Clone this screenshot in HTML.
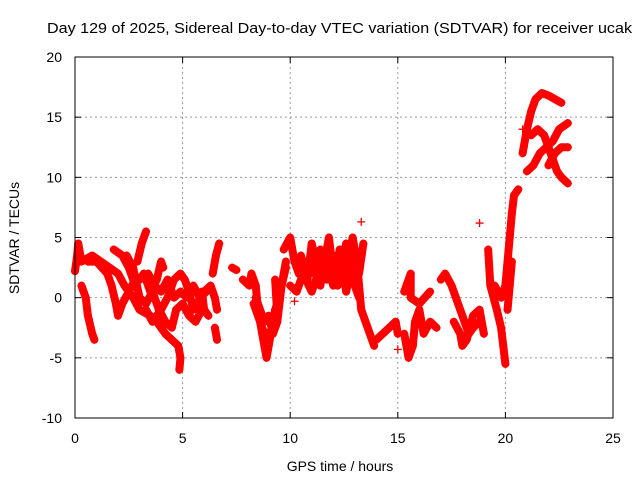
<!DOCTYPE html>
<html><head><meta charset="utf-8"><style>
body{margin:0;background:#fff}
svg{display:block;font-family:"Liberation Sans",sans-serif}
</style></head><body>
<svg id="c" width="640" height="480">
<text x="47" y="33" textLength="585" lengthAdjust="spacingAndGlyphs" font-size="15">Day 129 of 2025, Sidereal Day-to-day VTEC variation (SDTVAR) for receiver ucak</text>
<text x="340" y="471" text-anchor="middle" font-size="14">GPS time / hours</text>
<text transform="translate(19,238) rotate(-90)" text-anchor="middle" font-size="14">SDTVAR / TECUs</text>
<g id="grid"></g><g id="marks"></g>
<rect x="75" y="57" width="538" height="361" fill="none" stroke="#000"/>
</svg>
<script>
const xTicks=[0,5,10,15,20,25];
const yTicks=[-10,-5,0,5,10,15,20];
const t1=[[0,2.2],[0.1,3.5],[0.15,4.5],[0.3,3],[0.5,3.2],[0.8,3.5],[1.2,3],[1.6,2.5],[2.0,2],[2.3,1],[2.7,0],[3.0,-1],[3.5,-1.5],[3.8,-2],[4.2,-3],[4.5,-3.5],[4.8,-4],[4.9,-5],[4.85,-6]];
const t2=[[0.3,1],[0.5,0],[0.6,-1.5],[0.8,-3],[0.9,-3.5]];
const t3=[[0.6,3],[1.0,3],[1.5,2],[1.7,1],[1.9,-0.5],[2.0,-1.5],[2.2,-0.5],[2.5,0.5],[2.8,1.5]];
const t4=[[1.8,4],[2.2,3.5],[2.5,2.5],[2.7,1.5],[3.0,1.5],[3.2,2],[3.5,0.5],[3.8,1.5],[4.0,3],[4.1,2.5]];
const t5=[[2.9,3],[3.1,4.5],[3.3,5.5]];
const t6=[[3.3,-1],[3.6,-2],[4.0,-1],[4.3,0],[4.6,1.5],[4.9,2],[5.1,1.5],[5.3,0.5],[5.5,-1],[5.7,-0.5],[5.9,0.5],[6.0,-1],[6.2,-1.5]];
const t6b=[[2.4,3.5],[2.7,2.5],[3.0,0],[3.3,-0.5],[3.6,0.5],[3.9,-1],[4.2,-2],[4.5,-2.5],[4.7,-1],[5.0,-0.5],[5.3,-1.5],[5.6,-2],[5.9,-1]];
const t6c=[[3.4,2],[3.7,1],[4.0,0.5],[4.3,1.5],[4.6,0],[4.9,0.5],[5.2,0],[5.5,1],[5.8,0],[6.1,0.5]];
const t7=[[6.0,0.5],[6.3,1],[6.5,0],[6.6,-1]];
const t8=[[6.4,2],[6.55,3.5],[6.7,4.5]];
const t9=[[6.5,-2.5],[6.6,-3.5]];
const t10=[[7.3,2.5],[7.5,2.3]];
const t11=[[7.8,1.5],[8.1,1],[8.2,2],[8.4,1],[8.5,-1],[8.7,-3],[8.8,-4],[8.9,-5],[9.0,-4],[9.2,-2],[9.3,-1],[9.5,0],[9.7,2],[9.8,3]];
const t12=[[8.3,-0.5],[8.6,-2],[8.8,-3],[9.0,-3],[9.2,-2.5],[9.4,-1.5],[9.3,1.5]];
const t12b=[[8.4,0],[8.6,-1],[8.8,-2],[9.0,-1.5],[9.2,-3],[9.4,-2],[9.6,1],[9.8,2.5]];
const t13=[[9.7,4],[10,5],[10.2,3],[10.4,2],[10.5,3.5],[10.8,1.5],[11,4.5],[11.2,3],[11.4,1],[11.6,3],[11.8,5],[12,2],[12.2,1],[12.4,3],[12.6,4.5],[12.8,2],[13.0,1],[13.2,0]];
const t14=[[10,1],[10.3,0.5],[10.6,2],[11,0.5],[11.4,2.5],[11.7,1.5],[12,3.5],[12.3,1.5],[12.6,2],[12.9,5],[13.1,3],[13.3,-1],[13.5,-2],[13.7,-3],[13.9,-4]];
const t14b=[[10.8,3],[11.1,2],[11.4,4],[11.7,3],[12.0,1],[12.3,4],[12.6,0.5],[12.9,3],[13.2,2],[13.4,4.5]];
const t15=[[14.0,-3.5],[14.3,-3],[14.6,-2.5],[14.9,-2],[15.0,-3]];
const t16=[[15.3,-3],[15.5,-5],[15.7,-4],[15.8,-2],[16.0,-1],[16.2,-3],[16.5,-2],[16.8,-2.5]];
const t17=[[15.3,0.5],[15.6,2],[15.6,0],[16.0,-0.5],[16.5,0.5]];
const t18=[[17.0,1.5],[17.2,2],[17.5,1],[17.7,0],[17.9,-1],[18.1,-2],[18.3,-3],[18.5,-2.5],[18.8,-2]];
const t19=[[17.6,-2],[17.9,-3],[18.0,-4],[18.2,-3.5],[18.5,-1.5],[18.8,-1],[19,-3]];
const t20=[[19.2,4],[19.3,1],[19.6,-1],[19.8,-2.5],[19.9,-4],[20.0,-5.5]];
const t21=[[19.5,1],[19.8,0],[20.0,1],[20.1,3],[20.2,5],[20.3,7],[20.4,8.5],[20.6,9]];
const t22=[[20.1,-1],[20.2,1],[20.3,3]];
const t23=[[20.8,12],[21.0,14],[21.2,15.5],[21.4,16.5],[21.7,17],[22.0,16.8],[22.3,16.5],[22.6,16.2]];
const t24=[[21.2,13.5],[21.5,14],[21.8,13.5],[22.0,12.5],[22.2,11.5],[22.4,10.5],[22.6,10],[22.9,9.5]];
const t25=[[21.0,10.5],[21.3,11],[21.6,12],[21.9,12.5],[22.2,13],[22.5,14],[22.9,14.5]];
const t26=[[22.0,11],[22.3,12],[22.6,12.5],[22.9,12.5]];
const singles=[[20.8,14],[20.85,12.5],[18.8,6.2],[15.0,-4.3],[13.3,6.3],[10.2,-0.3]];
const tracks=[t1,t2,t3,t4,t5,t6,t6b,t6c,t7,t8,t9,t10,t11,t12,t12b,t13,t14,t14b,t15,t16,t17,t18,t19,t20,t21,t22,t23,t24,t25,t26];
const NS="http://www.w3.org/2000/svg";
const X=v=>75+v/25*538, Y=v=>418-(v+10)/30*361;
const grid=document.getElementById('grid'), marks=document.getElementById('marks');
function mk(tag,at,parent){const e=document.createElementNS(NS,tag);for(const k in at)e.setAttribute(k,at[k]);parent.appendChild(e);return e;}
xTicks.forEach(t=>{
 if(t>0&&t<25){const g=mk('line',{x1:X(t),x2:X(t),y1:57,y2:418,stroke:'#999','stroke-dasharray':'2,3'},grid);
 
 }
 mk('line',{x1:X(t),x2:X(t),y1:418,y2:412,stroke:'#000'},grid);
 mk('line',{x1:X(t),x2:X(t),y1:57,y2:63,stroke:'#000'},grid);
 const l=mk('text',{x:X(t),y:443,'text-anchor':'middle','font-size':14},grid);l.textContent=t;
 
 
});
yTicks.forEach(t=>{
 if(t>-10&&t<20){const g=mk('line',{x1:75,x2:613,y1:Y(t),y2:Y(t),stroke:'#999','stroke-dasharray':'2,3'},grid);
 
 }
 mk('line',{x1:75,x2:81,y1:Y(t),y2:Y(t),stroke:'#000'},grid);
 mk('line',{x1:613,x2:607,y1:Y(t),y2:Y(t),stroke:'#000'},grid);
 const l=mk('text',{x:62,y:Y(t)+5,'text-anchor':'end','font-size':14},grid);l.textContent=t;
 
 
});
function plus(p){const x=X(p[0]),y=Y(p[1]);
 const e=mk('path',{d:`M${x-4},${y}H${x+4}M${x},${y-4}V${y+4}`,stroke:'#f00','stroke-width':1.3},marks);
 
 }
tracks.forEach(tr=>{
 const pl=mk('polyline',{points:tr.map(p=>X(p[0])+','+Y(p[1])).join(' '),fill:'none',stroke:'#f00','stroke-width':8,'stroke-linejoin':'round','stroke-linecap':'round'},marks);
 
 
 tr.forEach(plus);
});
singles.forEach(plus);
</script>
</body></html>
